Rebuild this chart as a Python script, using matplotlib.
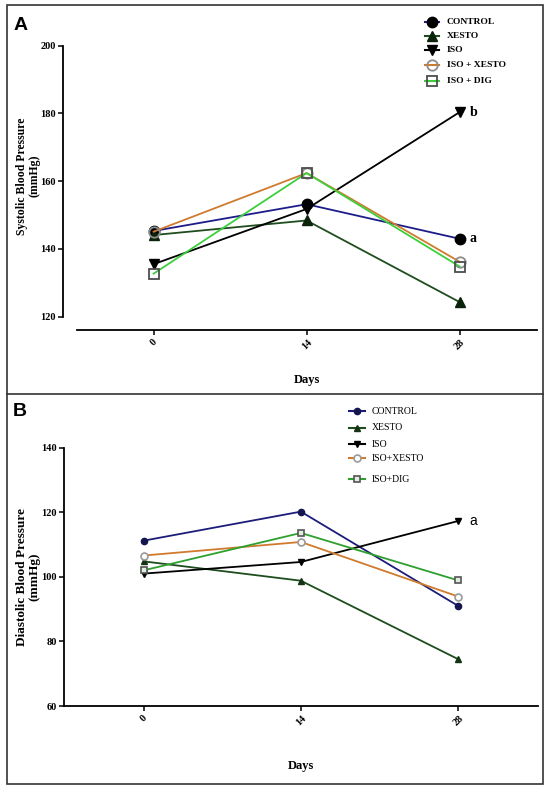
import matplotlib
matplotlib.use("Agg")
import matplotlib.pyplot as plt
from matplotlib.lines import Line2D
from matplotlib.patches import Rectangle

# ---- data ----
days = [0, 14, 28]
day_labels = ["0", "14", "28"]

labels_a = ["CONTROL", "XESTO", "ISO", "ISO + XESTO", "ISO + DIG"]
labels_b = ["CONTROL", "XESTO", "ISO", "ISO+XESTO", "ISO+DIG"]

sbp_control = [145.3, 153.2, 143.0]
sbp_xesto = [144.1, 148.4, 124.3]
sbp_iso = [135.5, 151.8, 180.4]
sbp_iso_xesto = [145.1, 162.4, 136.2]
sbp_iso_dig = [132.7, 162.4, 134.8]

dbp_control = [111.2, 120.2, 91.0]
dbp_xesto = [104.8, 98.8, 74.5]
dbp_iso = [101.0, 104.6, 117.3]
dbp_iso_xesto = [106.6, 110.8, 93.9]
dbp_iso_dig = [102.0, 113.6, 98.9]

W, H = 550, 789
SERIF = "Liberation Serif"
SANS = "Liberation Sans"


def fx(x):
    return x / W


def fy(y):
    return 1 - y / H


styles_a = [
    dict(color="#1c1c8a", marker="o", mfc="black", mec="black", ms=7.5),
    dict(color="#1e4d1e", marker="^", mfc="#0b220b", mec="#0b220b", ms=7.5),
    dict(color="black", marker="v", mfc="black", mec="black", ms=7.5),
    dict(color="#d07a2e", marker="o", mfc="none", mec="#8c8c8c", ms=7.5, mew=1.3),
    dict(color="#3ccf3c", marker="s", mfc="none", mec="#4d4d4d", ms=7.5, mew=1.3),
]
styles_b = [
    dict(color="#1c1c7a", marker="o", mfc="#151550", mec="#151550", ms=4.5),
    dict(color="#1e4d1e", marker="^", mfc="#143414", mec="#143414", ms=4.5),
    dict(color="black", marker="v", mfc="black", mec="black", ms=4.5),
    dict(color="#d07a2e", marker="o", mfc="white", mec="#9a9a9a", ms=5, mew=1.2),
    dict(color="#2ea02e", marker="s", mfc="#dfeedd", mec="#555555", ms=5, mew=1.2),
]

fig = plt.figure(figsize=(5.5, 7.89), dpi=100)

# panel frames
fig.add_artist(Rectangle((fx(6.7), fy(784)), fx(543.3) - fx(6.7), fy(5) - fy(784),
                         transform=fig.transFigure, fill=False, ec="#333333", lw=1.2))
fig.add_artist(Line2D([fx(6.7), fx(543.3)], [fy(394), fy(394)],
                      transform=fig.transFigure, color="#333333", lw=1.2))


def style_axes(ax, ymin, ymax, yticks, xbound_left):
    for s in ["top", "right"]:
        ax.spines[s].set_visible(False)
    ax.spines["left"].set_bounds(ymin, ymax)
    ax.spines["bottom"].set_bounds(xbound_left, 35.1)
    ax.spines["left"].set_linewidth(1.3)
    ax.spines["bottom"].set_linewidth(1.3)
    ax.set_yticks(yticks)
    ax.set_yticklabels([str(t) for t in yticks], fontfamily=SERIF,
                       fontweight="bold", fontsize=7.5)
    ax.set_xticks(days)
    ax.set_xticklabels(day_labels, fontfamily=SERIF, fontweight="bold",
                       fontsize=7.5, rotation=45, ha="center", va="top")
    ax.tick_params(axis="both", length=3.5, width=1.1, pad=2)


# ---- panel A ----
axa = fig.add_axes([fx(63.3), fy(330), fx(537.3) - fx(63.3), fy(45.7) - fy(330)])
series_a = [sbp_control, sbp_xesto, sbp_iso, sbp_iso_xesto, sbp_iso_dig]
for vals, st in zip(series_a, styles_a):
    axa.plot(days, vals, lw=1.3, clip_on=False, **st)
axa.set_xlim(-8.26, 35.1)
axa.set_ylim(116.07, 200)
style_axes(axa, 120, 200, [120, 140, 160, 180, 200], -7.05)
axa.text(28.9, sbp_iso[2], "b", fontfamily=SERIF, fontweight="bold",
         fontsize=10, va="center", ha="left")
axa.text(28.9, sbp_control[2], "a", fontfamily=SERIF, fontweight="bold",
         fontsize=10, va="center", ha="left")

fig.text(fx(21), fy(25), "A", fontfamily=SANS, fontweight="bold",
         fontsize=14, ha="center", va="center")
fig.text(fx(28), fy(176), "Systolic Blood Pressure\n(mmHg)", fontfamily=SERIF,
         fontweight="bold", fontsize=8.5, rotation=90, ha="center", va="center",
         linespacing=1.1)
fig.text(fx(307), fy(380), "Days", fontfamily=SERIF, fontweight="bold",
         fontsize=9, ha="center", va="center")

rows_a = [21.7, 35.7, 50, 65, 81]
for lab, st, y in zip(labels_a, styles_a, rows_a):
    fig.add_artist(Line2D([fx(424.5), fx(431.6), fx(438.7)], [fy(y)] * 3,
                          lw=1.5, transform=fig.transFigure, markevery=[1], **st))
    fig.text(fx(446.7), fy(y), lab, fontfamily=SERIF, fontweight="bold",
             fontsize=6.8, ha="left", va="center")

# ---- panel B ----
axb = fig.add_axes([fx(64.2), fy(706), fx(538) - fx(64.2), fy(447.7) - fy(706)])
series_b = [dbp_control, dbp_xesto, dbp_iso, dbp_iso_xesto, dbp_iso_dig]
for vals, st in zip(series_b, styles_b):
    axb.plot(days, vals, lw=1.3, clip_on=False, **st)
axb.set_xlim(-7.06, 35.1)
axb.set_ylim(60, 140)
style_axes(axb, 60, 140, [60, 80, 100, 120, 140], -7.06)
axb.text(29.0, dbp_iso[2], "a", fontfamily=SANS, fontsize=10,
         va="center", ha="left")

fig.text(fx(20), fy(412), "B", fontfamily=SANS, fontweight="bold",
         fontsize=14, ha="center", va="center")
fig.text(fx(28), fy(577), "Diastolic Blood Pressure\n(mmHg)", fontfamily=SERIF,
         fontweight="bold", fontsize=9.5, rotation=90, ha="center", va="center",
         linespacing=1.1)
fig.text(fx(301), fy(765.7), "Days", fontfamily=SERIF, fontweight="bold",
         fontsize=9, ha="center", va="center")

rows_b = [411, 427.7, 444.3, 458.3, 479]
for lab, st, y in zip(labels_b, styles_b, rows_b):
    fig.add_artist(Line2D([fx(349), fx(357), fx(365)], [fy(y)] * 3, lw=1.5,
                          transform=fig.transFigure, markevery=[1], **st))
    fig.text(fx(371.7), fy(y), lab, fontfamily=SERIF, fontsize=7,
             ha="left", va="center")

fig.savefig("out.png", dpi=100)
